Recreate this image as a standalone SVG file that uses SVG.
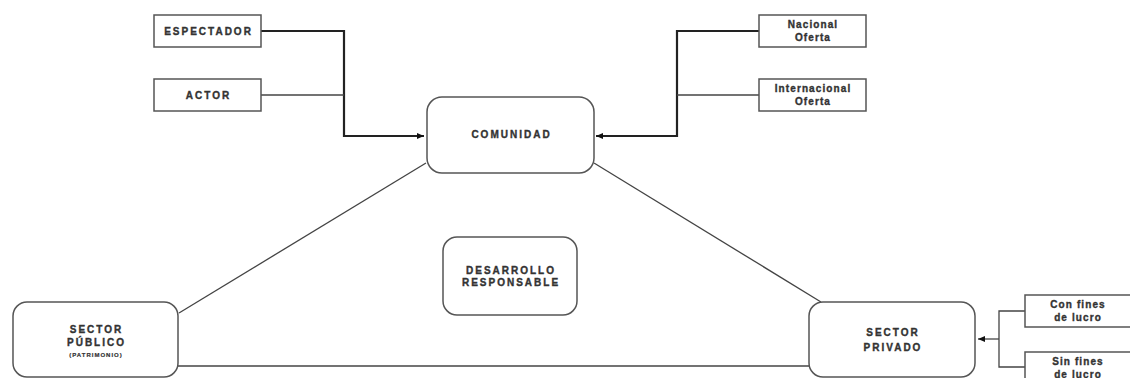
<svg xmlns="http://www.w3.org/2000/svg" width="1130" height="378" viewBox="0 0 1130 378">
<style>
.box{fill:#fff;stroke:#555;stroke-width:1.5}
.rbox{fill:#fff;stroke:#555;stroke-width:1.5}
.t{font-family:"Liberation Sans",Arial,sans-serif;font-weight:bold;font-size:10px;fill:#333;stroke:#333;stroke-width:0.35;text-anchor:middle;letter-spacing:2px}
.l{letter-spacing:1.1px}
.ts{font-family:"Liberation Sans",Arial,sans-serif;font-weight:bold;font-size:6px;fill:#333;stroke:#333;stroke-width:0.2;text-anchor:middle;letter-spacing:1px}
.c{fill:none;stroke:#222}
.thick{stroke-width:2.2}
.thin{stroke-width:1.3;stroke:#444}
</style>
<defs>
<marker id="ah" markerWidth="8" markerHeight="8" refX="7" refY="4" orient="auto" markerUnits="userSpaceOnUse">
<path d="M0,1 L7,4 L0,7 Z" fill="#111"/>
</marker>
</defs>
<rect width="1130" height="378" fill="#fff"/>
<g id="connectors">
<polyline class="c thick" points="261,31 344,31 344,136 424,136" marker-end="url(#ah)"/>
<line class="c thin" x1="261" y1="95" x2="344" y2="95"/>
<polyline class="c thick" points="759,31 677,31 677,136 596,136" marker-end="url(#ah)"/>
<line class="c thin" x1="759" y1="95" x2="677" y2="95"/>
<line class="c thin" x1="179" y1="313" x2="426" y2="163"/>
<line class="c thin" x1="594" y1="163" x2="821" y2="302"/>
<line class="c thin" x1="178" y1="366" x2="809" y2="366"/>
<polyline class="c thin" points="1025,311 999,311 999,367 1025,367"/>
<line class="c thin" x1="999" y1="339" x2="978" y2="339" marker-end="url(#ah)"/>
</g>
<g id="espectador"><rect class="box" x="154" y="15" width="107" height="32"/><text class="t" x="208.5" y="35">ESPECTADOR</text></g>
<g id="actor"><rect class="box" x="154" y="79" width="107" height="32"/><text class="t" x="208.5" y="99">ACTOR</text></g>
<g id="nacional"><rect class="box" x="759" y="15" width="107" height="32"/><text class="t l" x="813" y="28">Nacional</text><text class="t l" x="813" y="41">Oferta</text></g>
<g id="internacional"><rect class="box" x="759" y="79" width="107" height="32"/><text class="t l" x="813" y="92">Internacional</text><text class="t l" x="813" y="105">Oferta</text></g>
<g id="comunidad"><rect class="rbox" x="427" y="97" width="167" height="76" rx="15"/><text class="t" x="511.5" y="138">COMUNIDAD</text></g>
<g id="desarrollo"><rect class="rbox" x="443" y="237" width="134" height="78" rx="14"/><text class="t" x="511" y="274">DESARROLLO</text><text class="t" x="511" y="286">RESPONSABLE</text></g>
<g id="publico"><rect class="rbox" x="13" y="302" width="165" height="75" rx="14"/><text class="t" x="96.5" y="333">SECTOR</text><text class="t" x="96.5" y="346">PÚBLICO</text><text class="ts" x="96" y="357">(PATRIMONIO)</text></g>
<g id="privado"><rect class="rbox" x="809" y="302" width="166" height="75" rx="14"/><text class="t" x="893" y="336">SECTOR</text><text class="t" x="893" y="351">PRIVADO</text></g>
<g id="con-fines"><rect class="box" x="1025" y="295" width="107" height="32"/><text class="t l" x="1078" y="308">Con fines</text><text class="t l" x="1078" y="321">de lucro</text></g>
<g id="sin-fines"><rect class="box" x="1025" y="352" width="107" height="32"/><text class="t l" x="1078" y="365">Sin fines</text><text class="t l" x="1078" y="378">de lucro</text></g>
</svg>
